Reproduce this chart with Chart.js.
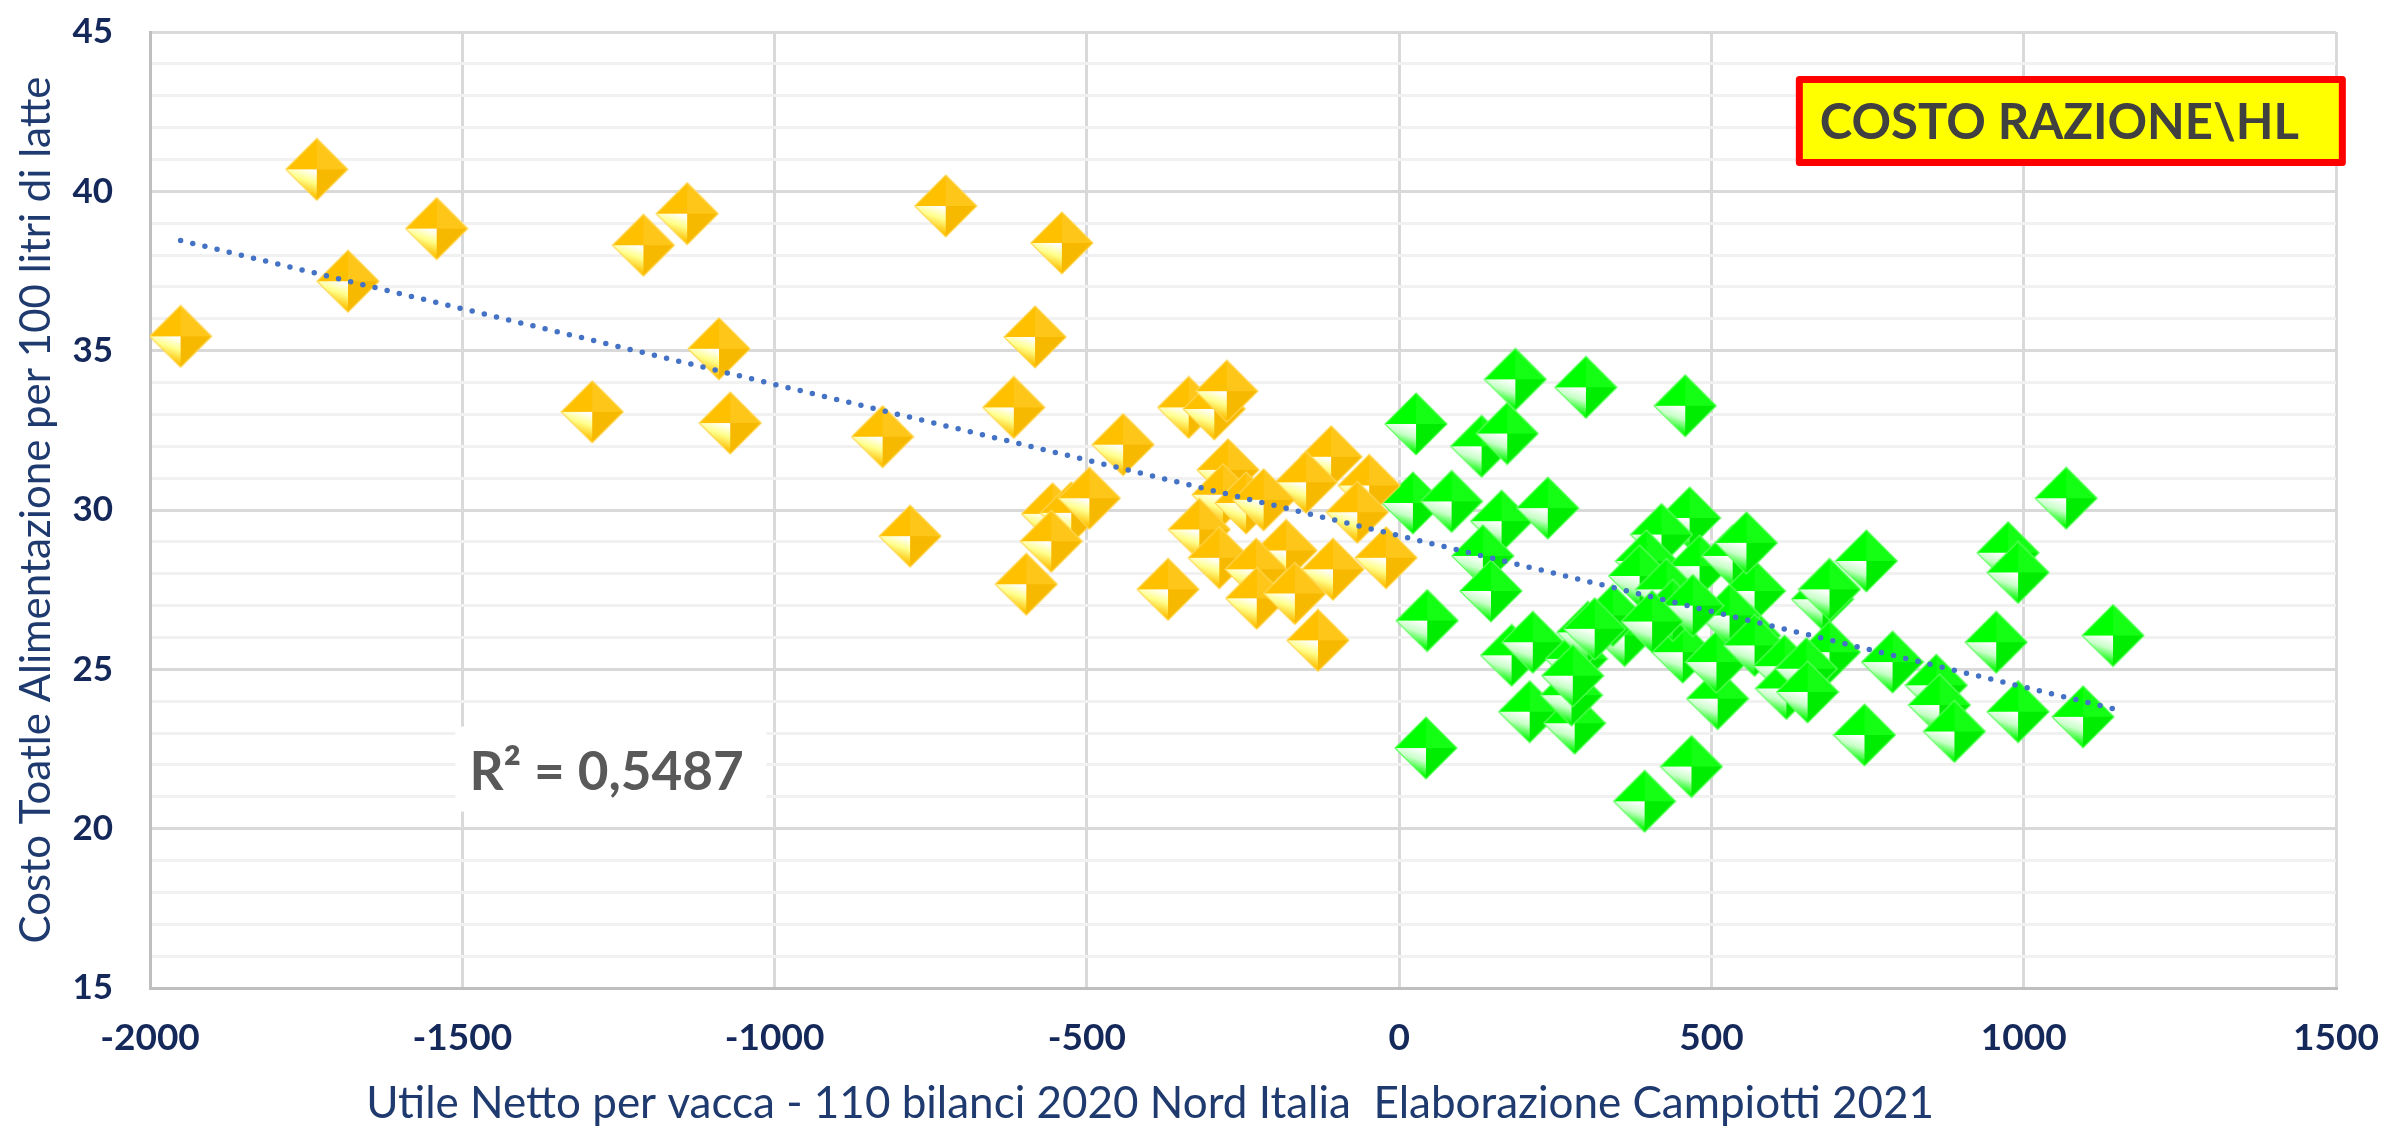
<!DOCTYPE html>
<html>
<head>
<meta charset="utf-8">
<script src="https://cdn.jsdelivr.net/npm/chart.js@4.4.1/dist/chart.umd.min.js"></script>
<style>
  html, body { margin: 0; padding: 0; background: #fff; }
  #wrap { width: 2407px; height: 1128px; }
</style>
</head>
<body>
<div id="wrap"><canvas id="chart"></canvas></div>
<script>
// aziende con utile netto negativo (euro per vacca) e costo alimentazione (euro / 100 l)
const lossUtile = [-1951, -1733, -1683, -1541, -1210, -1140, -1089, -1292, -1071, -726,
  -540, -583, -617, -827, -783, -442, -555, -525, -496, -557,
  -597, -370, -274, -282, -109, -149, -48, -67, -245, -217,
  -320, -288, -181, -229, -228, -167, -106, -21, -130, -337,
  -296, -276];
const lossCosto = [35.45, 40.69, 37.18, 38.83, 38.31, 39.30, 35.06, 33.08, 32.73, 39.54,
  38.38, 35.43, 33.22, 32.30, 29.18, 32.05, 29.88, 29.91, 30.37, 29.02,
  27.67, 27.51, 31.26, 30.48, 31.67, 30.87, 30.77, 29.93, 30.22, 30.32,
  29.39, 28.50, 28.73, 28.14, 27.23, 27.38, 28.14, 28.50, 25.91, 33.22,
  33.17, 33.73];

// aziende con utile netto positivo
const profitUtile = [27, 132, 173, 186, 299, 458, 1068, 22, 84, 164,
  238, 134, 147, 45, 43, 180, 214, 209, 281, 276,
  284, 302, 361, 465, 420, 396, 481, 534, 569, 561,
  510, 454, 468, 393, 385, 428, 342, 313, 438, 508,
  529, 569, 617, 620, 975, 991, 748, 678, 689, 956,
  1143, 790, 689, 652, 654, 860, 865, 889, 991, 1095,
  745, 278, 556, 470, 405];
const profitCosto = [32.7, 32.0, 32.4, 34.1, 33.85, 33.27, 30.37, 30.22, 30.27, 29.65,
  30.06, 28.56, 27.46, 26.53, 22.53, 25.44, 25.85, 23.67, 23.31, 24.19,
  25.33, 26.16, 26.06, 29.75, 29.23, 28.4, 28.24, 28.56, 27.46, 26.06,
  24.08, 25.54, 21.95, 20.86, 27.93, 27.51, 26.69, 26.27, 26.85, 25.23,
  26.69, 25.75, 25.1, 24.4, 28.66, 28.04, 28.4, 27.2, 27.51, 25.85,
  26.06, 25.23, 25.54, 25.02, 24.29, 24.5, 23.88, 23.05, 23.67, 23.51,
  22.94, 24.8, 28.97, 27.0, 26.5];

const rSquaredText = 'R² = 0,5487';
const boxText = 'COSTO RAZIONE\\HL';
const xTitle = 'Utile Netto per vacca - 110 bilanci 2020 Nord Italia  Elaborazione Campiotti 2021';
const yTitle = 'Costo Toatle Alimentazione per 100 litri di latte';

const toPoints = (xs, ys) => xs.map((x, i) => ({ x: x, y: ys[i] }));

// linear trend (least squares) over all farms
const allX = lossUtile.concat(profitUtile);
const allY = lossCosto.concat(profitCosto);
const n = allX.length;
const meanX = allX.reduce((a, b) => a + b, 0) / n;
const meanY = allY.reduce((a, b) => a + b, 0) / n;
let sxy = 0, sxx = 0;
for (let i = 0; i < n; i++) {
  sxy += (allX[i] - meanX) * (allY[i] - meanY);
  sxx += (allX[i] - meanX) * (allX[i] - meanX);
}
const slope = sxy / sxx;
const intercept = meanY - slope * meanX;
const xMin = Math.min(...allX);
const xMax = Math.max(...allX);
const trend = [
  { x: xMin, y: intercept + slope * xMin },
  { x: xMax, y: intercept + slope * xMax },
];

// bevelled diamond marker, like the Excel one
function diamond(base, shade, dark, light, edge) {
  const s = 64, c = 32, r = 31;
  const cv = document.createElement('canvas');
  cv.width = s;
  cv.height = s;
  const g = cv.getContext('2d');
  const T = [c, c - r], R = [c + r, c], B = [c, c + r], L = [c - r, c], C = [c, c];
  const tri = (p1, p2, p3, fill) => {
    g.beginPath();
    g.moveTo(p1[0], p1[1]);
    g.lineTo(p2[0], p2[1]);
    g.lineTo(p3[0], p3[1]);
    g.closePath();
    g.fillStyle = fill;
    g.fill();
  };
  tri(L, T, C, base);
  tri(T, R, C, shade);
  tri(R, B, C, dark);
  const grad = g.createLinearGradient(c - r * 0.1, c + r * 0.05, c - r * 0.35, c + r * 0.8);
  grad.addColorStop(0, '#ffffff');
  grad.addColorStop(0.45, light);
  grad.addColorStop(1, base);
  tri(L, C, B, grad);
  g.beginPath();
  g.moveTo(T[0], T[1]);
  g.lineTo(R[0], R[1]);
  g.lineTo(B[0], B[1]);
  g.lineTo(L[0], L[1]);
  g.closePath();
  g.lineWidth = 1.2;
  g.strokeStyle = edge;
  g.stroke();
  return cv;
}

const goldMark = diamond('#ffc000', '#ffc61a', '#f7b800', '#ffff8c', '#ffd650');
const greenMark = diamond('#00ff00', '#14ff14', '#00ec00', '#c8ffc8', '#5cff5c');

const tickColor = '#14285a';
const titleColor = '#1f3a6e';

const extraText = {
  id: 'extraText',
  afterDatasetsDraw(chart) {
    const ctx = chart.ctx;
    const a = chart.chartArea;
    const w = a.right - a.left;
    const h = a.bottom - a.top;
    ctx.save();

    // R² label on white ground
    const rx = a.left + 0.1397 * w;
    const ry = a.top + 0.7266 * h;
    ctx.fillStyle = '#ffffff';
    ctx.fillRect(rx, ry, 311, 85);
    ctx.font = 'bold 53px Lato';
    ctx.fillStyle = '#595959';
    ctx.textAlign = 'left';
    ctx.textBaseline = 'alphabetic';
    ctx.fillText(rSquaredText, rx + 14, ry + 63);

    // yellow box top right
    const bx = a.left + 0.7529 * w;
    const by = a.top + 44;
    ctx.fillStyle = '#ffff00';
    ctx.fillRect(bx + 3.5, by + 3.5, 543, 83);
    ctx.lineWidth = 7;
    ctx.strokeStyle = '#ff0000';
    ctx.lineJoin = 'round';
    ctx.strokeRect(bx + 3.5, by + 3.5, 543, 83);
    ctx.font = 'bold 49px Lato';
    ctx.fillStyle = '#404040';
    ctx.fillText(boxText, bx + 24, by + 63);

    // axis titles
    ctx.font = '44px Lato';
    ctx.fillStyle = titleColor;
    ctx.textAlign = 'center';
    ctx.fillText(xTitle, a.left + 0.4575 * w, a.bottom + 130);

    ctx.translate(50, (a.top + a.bottom) / 2);
    ctx.rotate(-Math.PI / 2);
    ctx.font = '42px Lato';
    ctx.fillText(yTitle, 0, 0);
    ctx.restore();
  }
};

new Chart(document.getElementById('chart'), {
  type: 'scatter',
  data: {
    datasets: [
      {
        type: 'line',
        data: trend,
        borderColor: '#4472c4',
        borderWidth: 5.5,
        borderDash: [0, 12.5],
        borderCapStyle: 'round',
        pointRadius: 0,
        fill: false,
        order: 0,
      },
      {
        data: toPoints(lossUtile, lossCosto),
        pointStyle: goldMark,
        pointRadius: 31,
        order: 1,
      },
      {
        data: toPoints(profitUtile, profitCosto),
        pointStyle: greenMark,
        pointRadius: 31,
        order: 2,
      },
    ],
  },
  options: {
    responsive: true,
    maintainAspectRatio: false,
    devicePixelRatio: 1,
    animation: false,
    layout: { padding: { top: 26, right: 71, left: 0, bottom: 0 } },
    plugins: {
      legend: { display: false },
      tooltip: { enabled: false },
    },
    scales: {
      x: {
        type: 'linear',
        min: -2000,
        max: 1500,
        afterFit: (scale) => {
          scale.height = 140;
          scale.paddingLeft = 0;
          scale.paddingRight = 0;
        },
        ticks: {
          stepSize: 500,
          padding: 28,
          color: tickColor,
          font: { family: 'Lato', size: 37, weight: 'bold' },
          callback: (v) => String(v),
        },
        grid: { color: '#d9d9d9', lineWidth: 3, drawTicks: false },
        border: { color: '#bfbfbf', width: 3 },
      },
      y: {
        min: 15,
        max: 45,
        afterFit: (scale) => {
          scale.width = 150;
          scale.paddingTop = 0;
          scale.paddingBottom = 0;
        },
        ticks: {
          stepSize: 1,
          autoSkip: false,
          padding: 37,
          color: tickColor,
          font: { family: 'Lato', size: 35, weight: 'bold' },
          callback: (v) => (v % 5 === 0 ? String(v) : ''),
        },
        grid: {
          color: (c) => (c.tick && c.tick.value % 5 === 0 ? '#d9d9d9' : '#f1f1f1'),
          lineWidth: 3,
          drawTicks: false,
        },
        border: { color: '#bfbfbf', width: 3 },
      },
    },
  },
  plugins: [extraText],
});
</script>
</body>
</html>
